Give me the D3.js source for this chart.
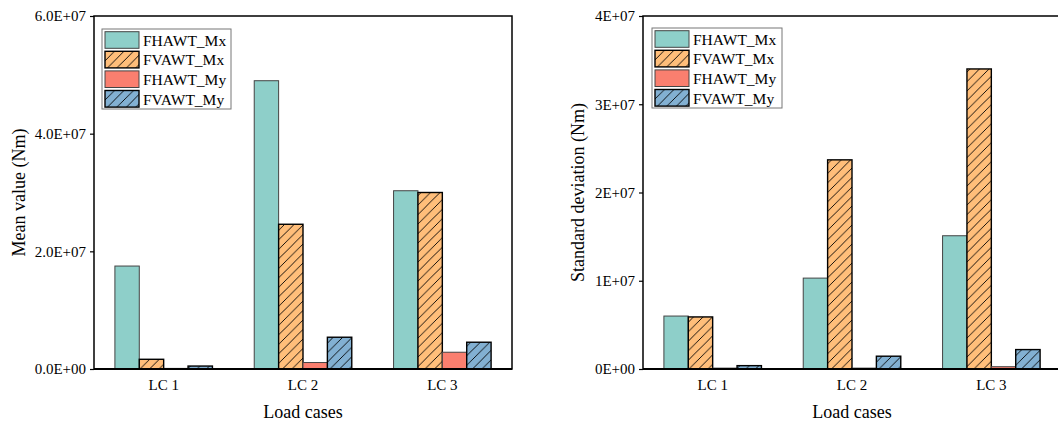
<!DOCTYPE html>
<html>
<head>
<meta charset="utf-8">
<script src="https://cdn.jsdelivr.net/npm/d3@7/dist/d3.min.js"></script>
<style>
  body { margin: 0; background: #fff; }
  svg { display: block; font-family: "Liberation Serif", "Times New Roman", serif; }
</style>
</head>
<body>
<svg id="chart" width="1058" height="426"></svg>
<script>
// ---- data ----
const categories = ['LC 1', 'LC 2', 'LC 3'];
const seriesNames = ['FHAWT_Mx', 'FVAWT_Mx', 'FHAWT_My', 'FVAWT_My'];

// mean values (Nm), one array per series, by load case
const meanFHAWT_Mx = [1.75e7, 4.90e7, 3.03e7];
const meanFVAWT_Mx = [1.65e6, 2.46e7, 3.00e7];
const meanFHAWT_My = [1.0e5, 1.1e6, 2.85e6];
const meanFVAWT_My = [5.0e5, 5.4e6, 4.55e6];

// standard deviations (Nm)
const stdFHAWT_Mx = [6.0e6, 1.03e7, 1.51e7];
const stdFVAWT_Mx = [5.9e6, 2.37e7, 3.40e7];
const stdFHAWT_My = [1.0e5, 1.0e5, 2.6e5];
const stdFVAWT_My = [3.8e5, 1.45e6, 2.2e6];

const meanTicks = [0, 2e7, 4e7, 6e7];
const stdTicks  = [0, 1e7, 2e7, 3e7, 4e7];

const colors  = ['#8ECFC9', '#FFBE7A', '#FA7F6F', '#82B0D2'];
const hatched = [false, true, false, true];

// "6.0E+07" / "4E+07" style labels
function sci(digits) {
  return v => {
    const [m, e] = v.toExponential(digits).split('e');
    const n = +e;
    return `${m}E${n < 0 ? '-' : '+'}${String(Math.abs(n)).padStart(2, '0')}`;
  };
}

const svg = d3.select('#chart');

// hatch patterns
const hs = 9.5;
const defs = svg.append('defs');
seriesNames.forEach((s, i) => {
  if (!hatched[i]) return;
  const p = defs.append('pattern')
    .attr('id', 'hatch' + i)
    .attr('patternUnits', 'userSpaceOnUse')
    .attr('width', hs).attr('height', hs);
  p.append('rect').attr('width', hs).attr('height', hs).attr('fill', colors[i]);
  p.append('path')
    .attr('d', `M0,${hs} L${hs},0 M-2,2 L2,-2 M${hs - 2},${hs + 2} L${hs + 2},${hs - 2}`)
    .attr('stroke', '#000').attr('stroke-width', 0.9);
});
const fillOf = i => hatched[i] ? `url(#hatch${i})` : colors[i];

function drawPanel(o) {
  const g = svg.append('g').attr('transform', `translate(${o.left},${o.top})`);
  const w = o.width, h = o.height;

  const x0 = d3.scaleBand().domain(categories).range([0, w]).paddingInner(0).paddingOuter(0);
  const bw = x0.bandwidth();
  const x1 = d3.scaleBand().domain(seriesNames).range([bw * 0.15, bw * 0.85]).padding(0);
  const y  = d3.scaleLinear().domain(o.domain).range([h, 0]);

  // bars
  o.series.forEach((vals, i) => {
    g.append('g').selectAll('rect')
      .data(vals)
      .join('rect')
      .attr('x', (d, j) => x0(categories[j]) + x1(seriesNames[i]))
      .attr('y', d => y(d))
      .attr('width', x1.bandwidth())
      .attr('height', d => h - y(d))
      .attr('fill', fillOf(i))
      .attr('stroke', hatched[i] ? '#000' : '#444')
      .attr('stroke-width', hatched[i] ? 1.4 : 1);
  });

  // y axis
  g.append('g')
    .call(d3.axisLeft(y).tickValues(o.ticks).tickFormat(o.fmt).tickSize(4).tickPadding(4))
    .call(a => a.select('.domain').remove())
    .call(a => a.selectAll('line').attr('stroke', '#000').attr('stroke-width', 1.2))
    .call(a => a.selectAll('text').attr('fill', '#000').attr('font-size', 15)
      .attr('font-family', '"Liberation Serif", "Times New Roman", serif'));

  // x axis
  g.append('g')
    .attr('transform', `translate(0,${h})`)
    .call(d3.axisBottom(x0).tickSize(0).tickPadding(10))
    .call(a => a.select('.domain').remove())
    .call(a => a.selectAll('text').attr('fill', '#000').attr('font-size', 15)
      .attr('font-family', '"Liberation Serif", "Times New Roman", serif'));

  // frame
  g.append('rect')
    .attr('width', w).attr('height', h)
    .attr('fill', 'none').attr('stroke', '#000').attr('stroke-width', 1.5);
  g.append('line')
    .attr('x1', 0).attr('x2', w).attr('y1', h).attr('y2', h)
    .attr('stroke', '#000').attr('stroke-width', 2.2);

  // titles
  g.append('text')
    .attr('transform', `translate(${o.yTitleX},${h / 2}) rotate(-90)`)
    .attr('text-anchor', 'middle').attr('font-size', 18).attr('fill', '#000')
    .text(o.yTitle);
  g.append('text')
    .attr('x', w / 2).attr('y', h + 49)
    .attr('text-anchor', 'middle').attr('font-size', 18).attr('fill', '#000')
    .text('Load cases');

  // legend
  const lg = g.append('g').attr('transform', `translate(${o.legX},${o.legY})`);
  lg.append('rect')
    .attr('width', o.legW).attr('height', 80)
    .attr('fill', '#fff').attr('stroke', '#777').attr('stroke-width', 1);
  seriesNames.forEach((s, i) => {
    const row = lg.append('g').attr('transform', `translate(3,${2.7 + i * 19.6})`);
    row.append('rect')
      .attr('width', 34).attr('height', 16.6)
      .attr('fill', fillOf(i))
      .attr('stroke', hatched[i] ? '#000' : '#444')
      .attr('stroke-width', hatched[i] ? 1.4 : 1);
    row.append('text')
      .attr('x', 38).attr('y', 14)
      .attr('font-size', 15.5).attr('fill', '#000')
      .text(s);
  });
}

drawPanel({
  left: 94, top: 16, width: 418, height: 353,
  domain: [0, 6e7], ticks: meanTicks, fmt: sci(1),
  series: [meanFHAWT_Mx, meanFVAWT_Mx, meanFHAWT_My, meanFVAWT_My],
  yTitle: 'Mean value (Nm)', yTitleX: -69,
  legX: 8, legY: 13, legW: 129
});

drawPanel({
  left: 643, top: 16, width: 418, height: 353,
  domain: [0, 4e7], ticks: stdTicks, fmt: sci(0),
  series: [stdFHAWT_Mx, stdFVAWT_Mx, stdFHAWT_My, stdFVAWT_My],
  yTitle: 'Standard deviation (Nm)', yTitleX: -59,
  legX: 9, legY: 12, legW: 130
});
</script>
</body>
</html>
